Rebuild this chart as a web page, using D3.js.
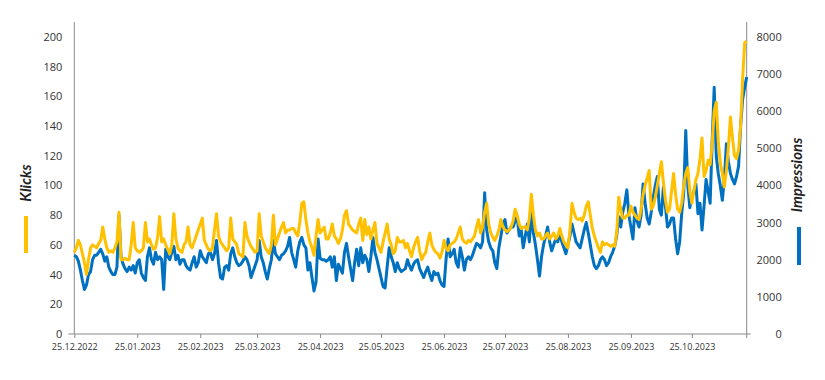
<!DOCTYPE html>
<html><head><meta charset="utf-8">
<script src="https://cdn.jsdelivr.net/npm/d3@7/dist/d3.min.js"></script>
<style>body{margin:0;background:#fff}</style>
</head><body><svg id="c" width="825" height="380"></svg>
<script>
const startDate = "2022-12-25";

const klicks = [
55,58,63,60,54,48,40,
50,58,60,59,58,61,63,
72,64,58,55,56,55,58,
62,82,50,50,51,50,50,
60,75,58,56,55,56,58,
75,62,64,60,57,58,65,
79,62,64,60,57,54,60,
81,64,58,56,55,60,62,
72,60,58,62,66,70,74,
78,63,60,57,56,58,70,
81,66,62,60,58,56,58,
78,64,62,60,54,53,52,
75,66,62,59,57,55,56,
81,66,62,58,56,54,60,
80,60,64,68,72,75,68,
70,70,71,71,68,66,75,
88,89,77,68,62,58,53,
66,77,68,70,72,64,64,
68,74,66,64,61,64,70,
80,83,74,72,70,69,68,
74,78,63,77,67,72,64,
70,75,61,58,55,62,68,
74,64,60,54,56,65,62,
62,63,58,61,56,52,58,
62,65,56,50,53,55,62,
68,60,57,55,54,51,55,
63,58,56,60,61,62,64,
68,72,64,62,61,63,62,
64,66,72,77,68,72,82,
88,74,68,65,63,66,70,
77,72,70,69,70,72,76,
84,80,74,71,72,72,70,
78,94,80,70,66,68,64,
64,66,68,64,66,68,64,
66,71,66,62,60,58,70,
88,82,78,77,78,76,80,
86,89,80,71,66,62,58,
55,62,60,61,60,59,60,
59,68,92,84,78,78,80,
80,86,82,80,78,77,84,
94,100,105,110,84,86,92,
100,108,116,102,90,82,84,
96,108,94,84,82,88,100,
108,112,96,88,96,104,108,
118,132,106,110,117,114,128,
150,156,130,115,108,99,110,
126,146,132,120,118,124,140,
172,196,197
];

const impressions = [
2120,2080,1960,1720,1440,1200,1320,
1600,1680,2000,2120,2120,2200,2280,
2160,1960,2080,1800,1680,1600,1600,
1800,3200,2080,1880,1760,1680,1800,
1720,1840,1640,1920,2000,1640,1520,
1440,2080,2320,2000,1880,2200,2000,
2080,2000,1200,2280,2080,2000,2200,
2360,2000,2120,1880,2000,2000,1840,
1760,1720,1920,2080,1800,1920,2240,
2080,2000,1920,2160,2200,2000,2160,
2520,1920,1520,1480,1800,1840,1720,
2160,2320,2080,1920,1840,1880,1960,
2080,2000,1840,1520,1680,1840,2000,
2520,2080,1920,1680,1480,1760,2000,
2520,2160,2080,2000,2120,2160,2240,
2360,2600,2200,2000,1800,2240,2480,
2600,2400,2320,1720,1920,1520,1160,
1400,2560,2040,2000,2000,1960,2000,
2080,1800,2080,1440,1880,1760,1640,
2200,2440,2080,1760,1440,1920,2280,
1840,2320,1920,2120,2000,1680,2080,
2600,2200,2000,1760,1520,1280,1240,
1800,2320,2080,1920,1680,1920,1760,
1680,1720,1760,2000,1840,1720,1880,
1960,2000,1760,1640,1520,1680,1800,
1600,1440,1680,1600,1640,1440,1320,
1280,2000,2560,2080,2160,2280,1920,
1800,2320,2080,1720,2000,2080,2000,
2120,2280,2440,2400,2320,2480,3800,
2800,2480,2320,2240,1920,1760,2320,
2640,2960,3080,2720,2800,2880,2880,
3040,3160,2640,2800,2320,2640,2960,
2480,3280,2720,2400,2000,1560,2080,
2400,2640,2880,2480,2240,2400,2560,
2480,2720,2480,2320,2160,2400,2640,
2960,2720,2480,2400,2320,2560,2800,
3000,2720,2400,2080,1840,1760,1840,
2000,2080,2000,1840,1920,2080,2200,
2360,2640,3160,2880,3280,3520,3880,
3200,2880,2560,3400,3040,2880,3200,
4040,3520,3120,2960,3280,3680,4000,
4240,3360,3200,3960,3440,2880,2960,
3120,3120,2560,2160,2480,3240,3800,
5480,4000,3400,3680,3840,4040,3240,
3520,2800,3440,4160,3840,3520,5200,
6640,4800,4320,4000,3600,4160,5120,
4640,4320,4160,4040,4240,4520,5600,
6320,6640,6920
];

const xTickLabels = ["25.12.2022","25.01.2023","25.02.2023","25.03.2023","25.04.2023","25.05.2023","25.06.2023","25.07.2023","25.08.2023","25.09.2023","25.10.2023"];
const leftTicks = [0,20,40,60,80,100,120,140,160,180,200];
const rightTicks = [0,1000,2000,3000,4000,5000,6000,7000,8000];
const leftTitle = "Klicks";
const rightTitle = "Impressions";

(function () {
const YELLOW = "#FFC000", BLUE = "#0070C0", AXIS = "#8a8a8a", TXT = "#333";
const svg = d3.select("#c");
const parseDay = d3.timeParse("%Y-%m-%d");
const parseLbl = d3.timeParse("%d.%m.%Y");
const start = parseDay(startDate);
const dates = klicks.map((_, i) => d3.timeDay.offset(start, i));

const pL = 74.3, pR = 746.7, pT = 22, pB = 334;
const x = d3.scaleTime().domain([dates[0], dates[dates.length - 1]]).range([pL, pR]);
const yL = d3.scaleLinear().domain([0, 210]).range([pB, pT]);
const yR = d3.scaleLinear().domain([0, 8400]).range([pB, pT]);

svg.append("line").attr("x1", pL).attr("x2", pL).attr("y1", pT).attr("y2", pB).attr("stroke", AXIS);
svg.append("line").attr("x1", pR).attr("x2", pR).attr("y1", pT).attr("y2", pB + 4).attr("stroke", AXIS);
svg.append("line").attr("x1", pL - 6).attr("x2", pR + 4).attr("y1", pB).attr("y2", pB).attr("stroke", AXIS);

const gL = svg.append("g").attr("transform", `translate(${pL},0)`)
  .call(d3.axisLeft(yL).tickValues(leftTicks).tickSize(0).tickPadding(12).tickFormat(d3.format("d")));
gL.select(".domain").remove();
gL.selectAll("text").attr("font-family", "Open Sans, sans-serif").attr("font-size", 11).attr("fill", TXT);

const gR = svg.append("g").attr("transform", `translate(${pR},0)`)
  .call(d3.axisRight(yR).tickValues(rightTicks).tickSize(0).tickPadding(10).tickFormat(d3.format("d")));
gR.select(".domain").remove();
gR.selectAll("text").attr("font-family", "Open Sans, sans-serif").attr("font-size", 11).attr("fill", TXT)
  .attr("text-anchor", "end").attr("x", 35);

const xTicks = xTickLabels.map(s => parseLbl(s));
const gX = svg.append("g").attr("transform", `translate(0,${pB})`)
  .call(d3.axisBottom(x).tickValues(xTicks).tickSize(4).tickSizeOuter(0).tickPadding(6)
    .tickFormat((d, i) => xTickLabels[i]));
gX.select(".domain").remove();
gX.selectAll("line").attr("stroke", AXIS);
gX.selectAll("text").attr("font-family", "Open Sans, sans-serif").attr("font-size", 9).attr("fill", TXT);

const lineI = d3.line().x((d, i) => x(dates[i])).y(d => yR(d));
const lineK = d3.line().x((d, i) => x(dates[i])).y(d => yL(d));
svg.append("path").datum(impressions).attr("d", lineI).attr("fill", "none")
  .attr("stroke", BLUE).attr("stroke-width", 3).attr("stroke-linejoin", "round");
svg.append("path").datum(klicks).attr("d", lineK).attr("fill", "none")
  .attr("stroke", YELLOW).attr("stroke-width", 3).attr("stroke-linejoin", "round");

svg.append("text").attr("transform", "translate(31,183) rotate(-90)")
  .attr("text-anchor", "middle").attr("font-family", "Lato, sans-serif").attr("font-size", 15)
  .attr("font-weight", "bold").attr("font-style", "italic").attr("fill", "#222").text(leftTitle);
svg.append("line").attr("x1", 26).attr("x2", 26).attr("y1", 216).attr("y2", 253)
  .attr("stroke", YELLOW).attr("stroke-width", 4);
svg.append("text").attr("transform", "translate(802,175) rotate(-90)")
  .attr("text-anchor", "middle").attr("font-family", "Lato, sans-serif").attr("font-size", 15)
  .attr("font-weight", "bold").attr("font-style", "italic").attr("fill", "#222").text(rightTitle);
svg.append("line").attr("x1", 799).attr("x2", 799).attr("y1", 227).attr("y2", 265)
  .attr("stroke", BLUE).attr("stroke-width", 4);
})();
</script></body></html>
